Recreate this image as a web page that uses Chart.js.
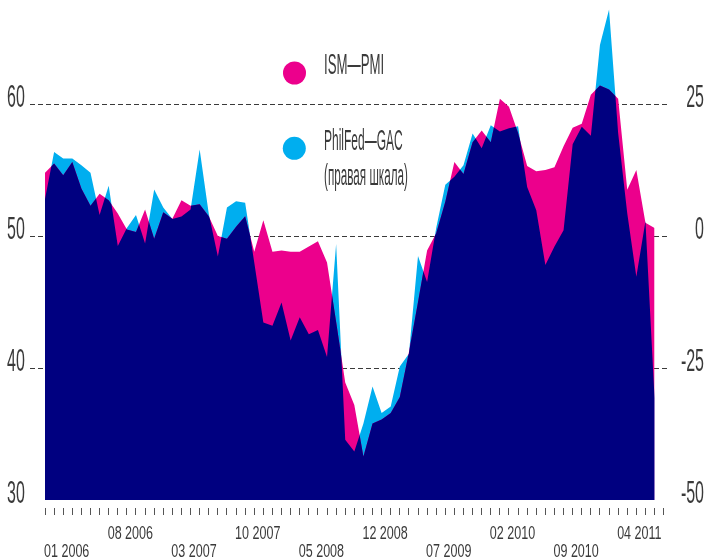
<!DOCTYPE html>
<html>
<head>
<meta charset="utf-8">
<script src="https://cdn.jsdelivr.net/npm/chart.js@4.4.1/dist/chart.umd.min.js"></script>
<style>
  html, body { margin: 0; padding: 0; background: #fff; }
  #wrap { width: 705px; height: 560px; }
</style>
</head>
<body>
<div id="wrap"><canvas id="chart" width="705" height="560"></canvas></div>
<script>
// months, Jan 2006 .. Aug 2011
const months = [
  "01 2006","02 2006","03 2006","04 2006","05 2006","06 2006","07 2006","08 2006","09 2006","10 2006","11 2006","12 2006",
  "01 2007","02 2007","03 2007","04 2007","05 2007","06 2007","07 2007","08 2007","09 2007","10 2007","11 2007","12 2007",
  "01 2008","02 2008","03 2008","04 2008","05 2008","06 2008","07 2008","08 2008","09 2008","10 2008","11 2008","12 2008",
  "01 2009","02 2009","03 2009","04 2009","05 2009","06 2009","07 2009","08 2009","09 2009","10 2009","11 2009","12 2009",
  "01 2010","02 2010","03 2010","04 2010","05 2010","06 2010","07 2010","08 2010","09 2010","10 2010","11 2010","12 2010",
  "01 2011","02 2011","03 2011","04 2011","05 2011","06 2011","07 2011","08 2011"
];

// ISM PMI (left scale)
const ismPmi = [
  54.8, 55.5, 54.6, 55.6, 53.6, 52.3, 53.2, 52.7, 51.7, 50.5, 50.3, 52.0,
  49.8, 51.8, 51.3, 52.7, 52.3, 52.4, 51.5, 50.0, 49.8, 50.7, 51.5, 48.8,
  51.2, 48.8, 48.9, 48.8, 48.8, 49.2, 49.6, 48.0, 43.5, 38.9, 37.2, 33.3,
  35.8, 36.1, 36.6, 37.8, 41.2, 45.0, 48.9, 50.2, 52.6, 55.6, 54.7, 57.1,
  58.0, 57.1, 60.4, 59.8, 57.8, 55.3, 54.9, 55.0, 55.2, 56.8, 58.2, 58.5,
  60.7, 61.4, 61.1, 60.4, 53.5, 55.0, 51.0, 50.6
];

// Philadelphia Fed general activity (right scale)
const philFedGac = [
   7.0, 15.9, 14.7, 14.7, 13.4, 12.0,  4.0,  9.5, -1.9,  1.5,  4.0, -1.4,
   8.8,  5.4,  3.2,  3.7,  5.0, 16.4,  4.2, -3.9,  5.4,  6.6,  6.3, -5.0,
 -16.4,-17.0,-12.6,-19.8,-15.4,-18.6,-17.8,-22.9, -1.5,-38.6,-40.8,-35.5,
 -28.5,-33.5,-32.3,-24.7,-22.3, -3.8, -8.7,  1.5,  9.7, 11.2, 13.4, 19.4,
  16.6, 21.0, 19.8, 20.4, 20.8,  9.3,  4.9, -5.5, -2.0,  1.1, 17.4, 20.7,
  19.0, 36.2, 42.9, 19.5,  4.3, -7.7,  2.8,-30.7
];

const xTickLabels = ["01 2006","08 2006","03 2007","10 2007","05 2008","12 2008","07 2009","02 2010","09 2010","04 2011"];
const leftTicks = [30, 40, 50, 60];
const rightTicks = [-50, -25, 0, 25];

const MAGENTA = "#ec008c";
const CYAN = "#00aeef";
const NAVY = "#000080";
const INK = "#3a3a3a";

function condText(ctx, text, x, y, size, sx, align){
  ctx.save();
  ctx.font = size + 'px "Liberation Sans", Arial, sans-serif';
  ctx.textBaseline = "alphabetic";
  ctx.textAlign = "left";
  const w = ctx.measureText(text).width * sx;
  ctx.translate(align === "right" ? x - w : x, y);
  ctx.scale(sx, 1);
  ctx.fillStyle = INK;
  ctx.fillText(text, 0, 0);
  ctx.restore();
}

function areaPath(ctx, pts, base){
  ctx.beginPath();
  ctx.moveTo(pts[0].x, base);
  pts.forEach(p=>ctx.lineTo(p.x, p.y));
  ctx.lineTo(pts[pts.length-1].x, base);
  ctx.closePath();
}

// dark overlap where both areas cover
const overlapPlugin = {
  id: "overlap",
  afterDatasetsDraw(chart){
    const ctx = chart.ctx;
    const base = chart.chartArea.bottom;
    const a = chart.getDatasetMeta(0).data;
    const b = chart.getDatasetMeta(1).data;
    ctx.save();
    areaPath(ctx, a, base);
    ctx.clip();
    areaPath(ctx, b, base);
    ctx.fillStyle = NAVY;
    ctx.fill();
    ctx.restore();
  }
};

const textPlugin = {
  id: "texts",
  afterDraw(chart){
    const ctx = chart.ctx;
    const y = chart.scales.y, y2 = chart.scales.y2, x = chart.scales.x;
    leftTicks.forEach(v=>{
      condText(ctx, String(v), 7, y.getPixelForValue(v) + 3, 32, 0.5, "left");
    });
    rightTicks.forEach(v=>{
      condText(ctx, String(v), 704, y2.getPixelForValue(v) + 3, 32, 0.5, "right");
    });
    xTickLabels.forEach((lbl, k)=>{
      const px = x.getPixelForValue(months.indexOf(lbl));
      condText(ctx, lbl, px - 1, k % 2 === 0 ? 557 : 539, 19, 0.66, "left");
    });

    // legend
    ctx.save();
    ctx.fillStyle = MAGENTA;
    ctx.beginPath(); ctx.arc(294.5, 73, 11.5, 0, Math.PI*2); ctx.fill();
    ctx.fillStyle = CYAN;
    ctx.beginPath(); ctx.arc(294.3, 148.3, 11.5, 0, Math.PI*2); ctx.fill();
    ctx.restore();
    condText(ctx, "ISM\u2014PMI", 324, 74, 30, 0.44, "left");
    condText(ctx, "PhilFed\u2014GAC", 324, 150, 30, 0.40, "left");
    condText(ctx, "(правая шкала)", 324, 185, 30, 0.39, "left");
  }
};

new Chart(document.getElementById("chart"), {
  type: "line",
  data: {
    datasets: [
      {
        label: "ISM—PMI",
        data: ismPmi.map((v,i)=>({x:i, y:v})),
        yAxisID: "y",
        borderWidth: 0,
        borderColor: MAGENTA,
        backgroundColor: MAGENTA,
        fill: "start",
        pointRadius: 0,
        tension: 0
      },
      {
        label: "PhilFed—GAC",
        data: philFedGac.map((v,i)=>({x:i, y:v})),
        yAxisID: "y2",
        borderWidth: 0,
        borderColor: CYAN,
        backgroundColor: CYAN,
        fill: "start",
        pointRadius: 0,
        tension: 0
      }
    ]
  },
  options: {
    responsive: false,
    animation: false,
    devicePixelRatio: 1,
    layout: { padding: { left: 30, right: 37, top: 0, bottom: 45 } },
    plugins: { legend: { display: false }, tooltip: { enabled: false } },
    scales: {
      x: {
        type: "linear",
        min: -1.65,
        max: 68.48,
        border: { display: false },
        grid: {
          drawOnChartArea: false,
          drawTicks: true,
          tickLength: 15,
          tickColor: "#555",
          tickWidth: 1,
          tickBorderDash: [0, 8, 7, 30]
        },
        ticks: { display: false },
        afterBuildTicks: s => { s.ticks = months.concat([""]).map((m,i)=>({value:i})); }
      },
      y: {
        position: "left",
        min: 30,
        max: 67.88,
        z: 1,
        border: { display: false, dash: [5, 3] },
        grid: { color: INK, lineWidth: 1, drawTicks: false },
        ticks: { display: false },
        afterBuildTicks: s => { s.ticks = leftTicks.filter(v=>v > 30).map(v=>({value:v})); }
      },
      y2: {
        position: "right",
        min: -50,
        max: 44.70,
        border: { display: false },
        grid: { display: false, drawTicks: false },
        ticks: { display: false }
      }
    }
  },
  plugins: [overlapPlugin, textPlugin]
});
</script>
</body>
</html>
